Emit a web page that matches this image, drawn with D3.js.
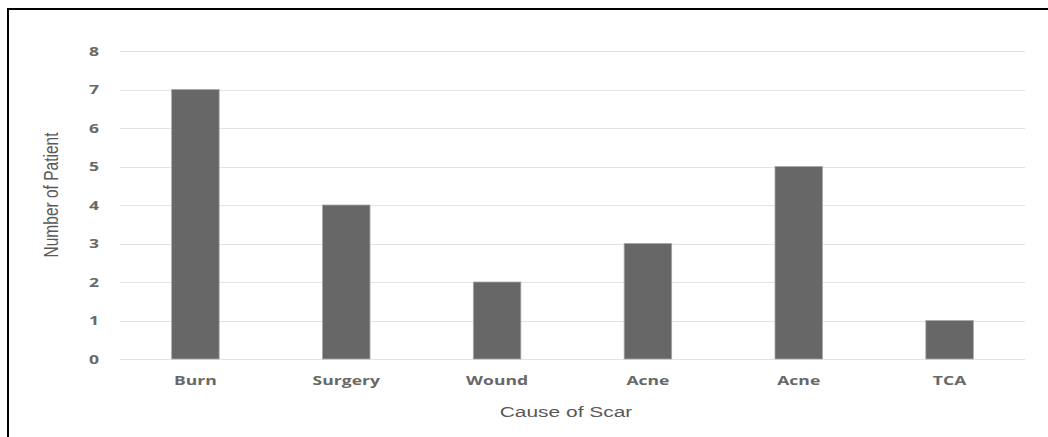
<!DOCTYPE html>
<html>
<head>
<meta charset="utf-8">
<script src="https://cdn.jsdelivr.net/npm/d3@7"></script>
<style>
  html, body { margin: 0; padding: 0; background: #fff; }
  svg { display: block; }
</style>
</head>
<body>
<svg id="chart" width="1048" height="437"></svg>
<script>
// Number of patients by cause of scar
const categories = ["Burn", "Surgery", "Wound", "Acne", "Acne", "TCA"];
const patients = [7, 4, 2, 3, 5, 1];
const yTicks = [0, 1, 2, 3, 4, 5, 6, 7, 8];
const xTitle = "Cause of Scar";
const yTitle = "Number of Patient";

const W = 1048, H = 437;
const plot = { left: 120, right: 1025, top: 51, bottom: 359 };
const stretch = 1.35; // text is drawn horizontally widened

const svg = d3.select("#chart");

const x = d3.scaleBand()
  .domain(d3.range(categories.length))
  .range([plot.left, plot.right])
  .paddingInner(0.685)
  .paddingOuter(0.3425);

const y = d3.scaleLinear()
  .domain([0, 8])
  .range([plot.bottom, plot.top]);

// frame lines on the top and left edges
svg.append("line")
  .attr("x1", 7).attr("x2", W).attr("y1", 9).attr("y2", 9)
  .attr("stroke", "#000").attr("stroke-width", 2);
svg.append("line")
  .attr("x1", 8).attr("x2", 8).attr("y1", 8).attr("y2", H)
  .attr("stroke", "#000").attr("stroke-width", 2);

// horizontal gridlines
svg.append("g")
  .selectAll("line")
  .data(yTicks)
  .join("line")
  .attr("x1", plot.left).attr("x2", plot.right)
  .attr("y1", d => Math.round(y(d)) + 0.5)
  .attr("y2", d => Math.round(y(d)) + 0.5)
  .attr("stroke", "#e3e3e3")
  .attr("stroke-width", 1.2);

// y tick labels
svg.append("g")
  .selectAll("text")
  .data(yTicks)
  .join("text")
  .attr("transform", d => `translate(99,${y(d)}) scale(${stretch},1)`)
  .attr("text-anchor", "end")
  .attr("dy", "0.36em")
  .attr("font-family", "'Open Sans', sans-serif")
  .attr("font-weight", 700)
  .attr("font-size", 13)
  .attr("fill", "#686868")
  .text(d => d);

// bars
svg.append("g")
  .selectAll("rect")
  .data(patients)
  .join("rect")
  .attr("x", (d, i) => x(i))
  .attr("y", d => y(d))
  .attr("width", x.bandwidth())
  .attr("height", d => y(0) - y(d))
  .attr("fill", "#676767")
  .attr("stroke", "#a8a8a8")
  .attr("stroke-width", 0.8);

// category labels
svg.append("g")
  .selectAll("text")
  .data(categories)
  .join("text")
  .attr("transform", (d, i) => `translate(${x(i) + x.bandwidth() / 2},385) scale(${stretch},1)`)
  .attr("text-anchor", "middle")
  .attr("font-family", "'Open Sans', sans-serif")
  .attr("font-weight", 700)
  .attr("font-size", 13)
  .attr("fill", "#686868")
  .text(d => d);

// x axis title
svg.append("text")
  .attr("transform", `translate(566,417) scale(${stretch},1)`)
  .attr("text-anchor", "middle")
  .attr("font-family", "'Liberation Sans', Arial, sans-serif")
  .attr("font-size", 15.5)
  .attr("fill", "#595959")
  .text(xTitle);

// y axis title
svg.append("text")
  .attr("transform", `translate(58,195) scale(${stretch},1) rotate(-90)`)
  .attr("text-anchor", "middle")
  .attr("font-family", "'Liberation Sans', Arial, sans-serif")
  .attr("font-size", 15.5)
  .attr("fill", "#595959")
  .text(yTitle);
</script>
</body>
</html>
